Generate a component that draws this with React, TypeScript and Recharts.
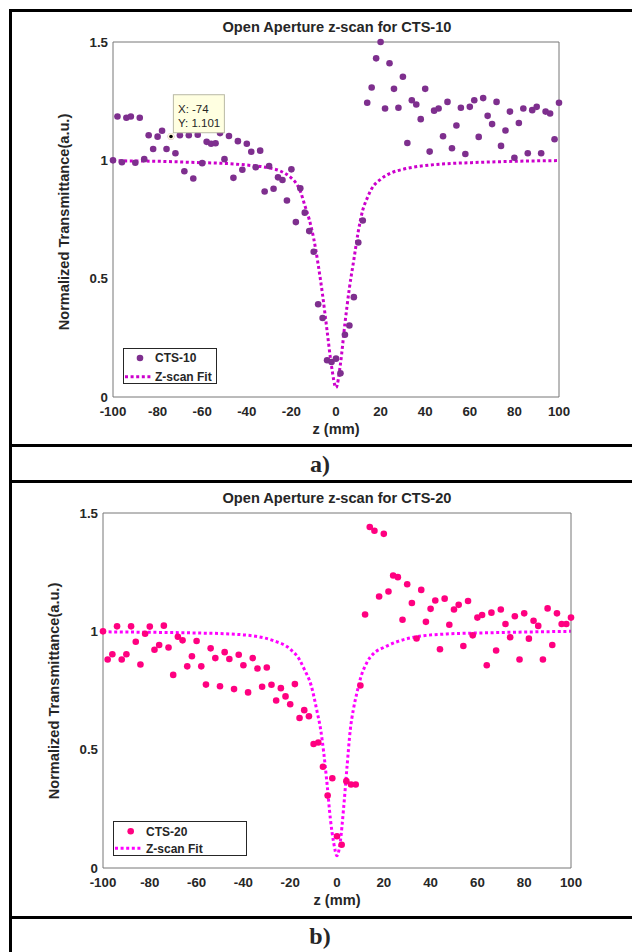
import React from "react";
import {
  ComposedChart,
  Scatter,
  Line,
  XAxis,
  YAxis,
  Legend,
  ReferenceDot,
} from "recharts";

// Two MATLAB-style open aperture z-scan plots stacked in a bordered table,
// each with a caption row underneath ("a)", "b)").

const zPositions = [
  -100, -98, -96, -94, -92, -90, -88, -86, -84, -82, -80, -78, -76, -74, -72, -70, -68,
  -66, -64, -62, -60, -58, -56, -54, -52, -50, -48, -46, -44, -42, -40, -38, -36, -34,
  -32, -30, -28, -26, -24, -22, -20, -18, -16, -14, -12, -10, -8, -6, -4, -2, 0, 2, 4,
  6, 8, 10, 12, 14, 16, 18, 20, 22, 24, 26, 28, 30, 32, 34, 36, 38, 40, 42, 44, 46, 48,
  50, 52, 54, 56, 58, 60, 62, 64, 66, 68, 70, 72, 74, 76, 78, 80, 82, 84, 86, 88, 90,
  92, 94, 96, 98, 100,
];

const cts10 = [
  1.0, 1.185, 0.992, 1.18, 1.185, 0.99, 1.18, 1.005, 1.106, 1.048, 1.1, 1.125, 1.048,
  1.101, 1.03, 1.106, 0.954, 1.106, 0.923, 1.108, 0.988, 1.078, 1.07, 1.072, 1.115,
  1.005, 1.103, 0.926, 1.081, 0.96, 1.07, 1.036, 0.971, 1.041, 0.868, 0.976, 0.88,
  0.928, 0.917, 0.83, 0.962, 0.739, 0.882, 0.779, 0.701, 0.614, 0.392, 0.334, 0.155,
  0.148, 0.162, 0.1, 0.263, 0.302, 0.422, 0.653, 0.746, 1.243, 1.308, 1.431, 1.5,
  1.219, 1.41, 1.302, 1.222, 1.353, 1.073, 1.254, 1.236, 1.174, 1.302, 1.037, 1.21,
  1.219, 1.102, 1.247, 1.051, 1.147, 1.222, 1.027, 1.226, 1.254, 1.099, 1.263, 1.188,
  1.153, 1.247, 1.061, 1.126, 1.206, 1.011, 1.158, 1.219, 1.03, 1.212, 1.226, 1.03,
  1.206, 1.198, 1.089, 1.243,
];

const cts20 = [
  1.0, 0.881, 0.903, 1.021, 0.881, 0.903, 1.021, 0.956, 0.86, 0.99, 1.02, 0.922, 0.942,
  1.024, 0.932, 0.816, 0.977, 0.962, 0.852, 0.895, 0.959, 0.852, 0.775, 0.928, 0.887,
  0.768, 0.912, 0.883, 0.756, 0.901, 0.857, 0.742, 0.887, 0.843, 0.766, 0.847, 0.774,
  0.708, 0.76, 0.725, 0.692, 0.777, 0.634, 0.667, 0.641, 0.524, 0.53, 0.428, 0.306,
  0.379, 0.134, 0.098, 0.367, 0.353, 0.353, 0.771, 1.071, 1.441, 1.425, 1.147, 1.412,
  1.168, 1.236, 1.229, 1.049, 1.199, 1.12, 0.97, 1.175, 1.04, 1.095, 1.13, 0.924,
  1.138, 1.028, 1.092, 1.112, 0.938, 1.128, 0.983, 1.058, 1.069, 0.857, 1.079, 0.919,
  1.092, 1.031, 0.975, 1.064, 0.881, 1.076, 0.969, 1.045, 1.023, 0.881, 1.097, 0.942,
  1.076, 1.031, 1.031, 1.058,
];

// fit curves
const fitZA = [
  -100, -80, -60, -50, -40, -30, -25, -20, -18, -16, -14, -12, -10, -8, -6, -4, -2, 0,
  2, 4, 6, 8, 10, 12, 14, 16, 20, 25, 30, 40, 50, 60, 80, 100,
];
const fitTA = [
  0.998, 0.996, 0.99, 0.987, 0.98, 0.968, 0.955, 0.925, 0.905, 0.87, 0.81, 0.75, 0.67,
  0.56, 0.43, 0.28, 0.13, 0.04, 0.14, 0.31, 0.46, 0.58, 0.7, 0.79, 0.84, 0.88, 0.92,
  0.948, 0.962, 0.978, 0.986, 0.99, 0.996, 0.999,
];
const fitZB = [
  -100, -80, -60, -48, -40, -34, -27, -20, -16, -14, -11, -8.5, -7, -5.7, -4.3, -2.8,
  -1.4, 0, 1.4, 2.8, 4.3, 5.7, 7, 8.5, 10, 12.8, 15.7, 20, 25.6, 32.8, 47, 61, 80, 100,
];
const fitTB = [
  0.998, 0.996, 0.993, 0.99, 0.985, 0.978, 0.96, 0.925, 0.88, 0.84, 0.77, 0.66, 0.586,
  0.49, 0.36, 0.205, 0.106, 0.052, 0.11, 0.25, 0.43, 0.586, 0.67, 0.74, 0.8, 0.869,
  0.907, 0.932, 0.956, 0.975, 0.989, 0.993, 0.997, 1.0,
];

const zTicks = [-100, -80, -60, -40, -20, 0, 20, 40, 60, 80, 100];
const tTicks = [0, 0.5, 1, 1.5];
const datatip = { z: -74, t: 1.101 };

const font = "'Liberation Sans', Arial, Helvetica, sans-serif";
const ink = "#262626";
const axisGrey = "#767676";

const pts = (zs: number[], ts: number[]) => zs.map((z, i) => ({ z, t: ts[i] }));

function LegendBox({ payload, w, h, marker }: any) {
  const items = payload ?? [];
  const dot = items.find((p: any) => p.type === "circle");
  const fit = items.find((p: any) => p.type === "line");
  return (
    <svg width={w} height={h} style={{ display: "block" }}>
      <rect x={0.5} y={0.5} width={w - 1} height={h - 1} fill="#fff" stroke={ink} />
      <circle cx={marker.x} cy={marker.y1} r={3.3} fill={dot?.color} />
      <line
        x1={2}
        x2={30}
        y1={marker.y2}
        y2={marker.y2}
        stroke={fit?.color}
        strokeWidth={3}
        strokeDasharray="3 2.6"
      />
      <g fontFamily={font} fontWeight="bold" fontSize={12} fill={ink}>
        <text x={marker.tx} y={marker.y1 + 4.3}>{dot?.value}</text>
        <text x={marker.tx} y={marker.y2 + 4.3}>{fit?.value}</text>
      </g>
    </svg>
  );
}

function Datatip({ viewBox }: any) {
  const cx = viewBox.x + viewBox.width / 2;
  const cy = viewBox.y + viewBox.height / 2;
  const x = cx + 2.4;
  const y = cy - 41.7;
  return (
    <g>
      <rect x={x} y={y} width={51} height={38} fill="#ffffe1" stroke="#b9b9a5" />
      <g fontFamily={font} fontSize={11.5} fill={ink}>
        <text x={x + 4.6} y={y + 18}>X: {datatip.z}</text>
        <text x={x + 4.6} y={y + 32.5}>Y: {datatip.t}</text>
      </g>
    </g>
  );
}

function TipMarker({ cx, cy }: any) {
  return (
    <g>
      <circle cx={cx} cy={cy} r={3.4} fill="#fdf9dc" />
      <circle cx={cx} cy={cy} r={1.8} fill="#000" />
    </g>
  );
}

const tickFont = { fill: ink, fontSize: 13.3, fontWeight: "bold", fontFamily: font };

function Panel(props: any) {
  const { top, height, margin, values, color, fitZ, fitT, fitColor, name, legend, tip } = props;
  const data = pts(zPositions, values);
  const fit = pts(fitZ, fitT);
  const dotShape = (p: any) => <circle cx={p.cx} cy={p.cy} r={3.3} fill={color} />;
  return (
    <div style={{ position: "absolute", left: 0, top, width: 632, height }}>
      <ComposedChart width={632} height={height} margin={margin}>
        <XAxis
          xAxisId="b"
          type="number"
          dataKey="z"
          domain={[-100, 100]}
          ticks={zTicks}
          interval={0}
          height={20}
          tickLine={false}
          tickSize={0}
          tickMargin={10}
          axisLine={{ stroke: axisGrey }}
          tick={tickFont}
        />
        <XAxis
          xAxisId="bi"
          type="number"
          dataKey="z"
          domain={[-100, 100]}
          ticks={zTicks}
          interval={0}
          mirror
          height={1}
          tick={false}
          tickSize={4.5}
          axisLine={false}
          tickLine={{ stroke: axisGrey }}
        />
        <XAxis
          xAxisId="t"
          orientation="top"
          type="number"
          dataKey="z"
          domain={[-100, 100]}
          ticks={zTicks}
          interval={0}
          mirror
          height={1}
          tick={false}
          tickSize={4.5}
          axisLine={{ stroke: axisGrey }}
          tickLine={{ stroke: axisGrey }}
        />
        <YAxis
          yAxisId="l"
          type="number"
          dataKey="t"
          domain={[0, 1.5]}
          ticks={tTicks}
          interval={0}
          width={40}
          tickLine={false}
          tickSize={0}
          tickMargin={5}
          axisLine={{ stroke: axisGrey }}
          tick={tickFont}
        />
        <YAxis
          yAxisId="li"
          type="number"
          dataKey="t"
          domain={[0, 1.5]}
          ticks={tTicks}
          interval={0}
          mirror
          width={1}
          tick={false}
          tickSize={4.5}
          axisLine={false}
          tickLine={{ stroke: axisGrey }}
        />
        <YAxis
          yAxisId="r"
          orientation="right"
          type="number"
          dataKey="t"
          domain={[0, 1.5]}
          ticks={tTicks}
          interval={0}
          mirror
          width={1}
          tick={false}
          tickSize={4.5}
          axisLine={{ stroke: axisGrey }}
          tickLine={{ stroke: axisGrey }}
        />
        <Scatter
          name={name}
          xAxisId="b"
          yAxisId="l"
          data={data}
          dataKey="t"
          fill={color}
          legendType="circle"
          shape={dotShape}
          isAnimationActive={false}
        />
        <Line
          name="Z-scan Fit"
          xAxisId="b"
          yAxisId="l"
          data={fit}
          dataKey="t"
          type="monotone"
          stroke={fitColor}
          strokeWidth={3}
          strokeDasharray="3 2.6"
          dot={false}
          legendType="line"
          isAnimationActive={false}
        />
        {tip && (
          <ReferenceDot
            xAxisId="b"
            yAxisId="l"
            x={datatip.z}
            y={datatip.t}
            r={3.4}
            shape={TipMarker}
            label={Datatip}
          />
        )}
        <Legend
          layout="vertical"
          align="center"
          verticalAlign="middle"
          wrapperStyle={{ left: legend.left, top: legend.top, width: legend.w, height: legend.h }}
          content={(p: any) => (
            <LegendBox payload={p.payload} w={legend.w} h={legend.h} marker={legend} />
          )}
        />
      </ComposedChart>
    </div>
  );
}

const textBase: React.CSSProperties = {
  position: "absolute",
  fontFamily: font,
  fontWeight: "bold",
  color: ink,
  whiteSpace: "nowrap",
  textAlign: "center",
};

function Caption({ cx, cy, text, size, rotate }: any) {
  return (
    <div
      style={{
        ...textBase,
        left: cx - 200,
        top: cy - 10,
        width: 400,
        height: 20,
        lineHeight: "20px",
        fontSize: size,
        transform: rotate ? "rotate(-90deg)" : undefined,
      }}
    >
      {text}
    </div>
  );
}

function Rule({ x, y, w, h }: any) {
  return <div style={{ position: "absolute", left: x, top: y, width: w, height: h, background: "#000" }} />;
}

export default function App() {
  return (
    <div style={{ position: "absolute", left: 0, top: 0, width: 632, height: 952, background: "#fff", overflow: "hidden" }}>
      <Panel
        top={0}
        height={444}
        margin={{ top: 42, right: 73, bottom: 27, left: 73 }}
        values={cts10}
        color="#7e2f8e"
        fitZ={fitZA}
        fitT={fitTA}
        fitColor="#cc00cc"
        name="CTS-10"
        legend={{ left: 123, top: 348, w: 94, h: 36, x: 17, y1: 10, y2: 28.7, tx: 32 }}
        tip
      />
      <Panel
        top={483}
        height={433}
        margin={{ top: 30, right: 61, bottom: 28, left: 63 }}
        values={cts20}
        color="#ff0080"
        fitZ={fitZB}
        fitT={fitTB}
        fitColor="#ff00ff"
        name="CTS-20"
        legend={{ left: 113, top: 338, w: 134, h: 35, x: 17.7, y1: 10.3, y2: 27.3, tx: 33 }}
      />

      <Caption cx={337} cy={27} text="Open Aperture z-scan for CTS-10" size={14.6} />
      <Caption cx={63.7} cy={221.5} text="Normalized Transmittance(a.u.)" size={14.6} rotate />
      <Caption cx={336} cy={429} text="z (mm)" size={14.6} />

      <Caption cx={337} cy={498} text="Open Aperture z-scan for CTS-20" size={14.6} />
      <Caption cx={53.7} cy={690.5} text="Normalized Transmittance(a.u.)" size={14.6} rotate />
      <Caption cx={337} cy={900} text="z (mm)" size={14.6} />

      <div style={{ ...textBase, left: 120, width: 400, top: 449, lineHeight: "30px", fontSize: 24, fontFamily: "'Liberation Serif', 'Times New Roman', serif" }}>
        a)
      </div>
      <div style={{ ...textBase, left: 120, width: 400, top: 921, lineHeight: "30px", fontSize: 24, fontFamily: "'Liberation Serif', 'Times New Roman', serif" }}>
        b)
      </div>

      <Rule x={9} y={9} w={623} h={3} />
      <Rule x={9} y={9} w={3} h={943} />
      <Rule x={9} y={444} w={623} h={3} />
      <Rule x={9} y={480} w={623} h={3} />
      <Rule x={9} y={916} w={623} h={3} />
    </div>
  );
}
